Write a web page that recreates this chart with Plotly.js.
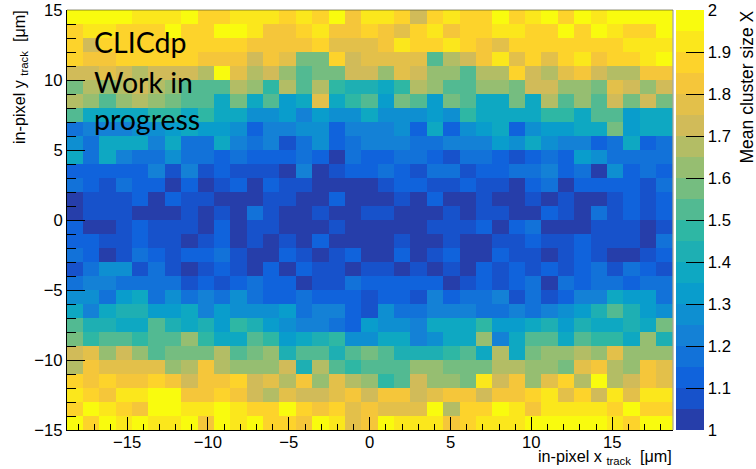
<!DOCTYPE html>
<html>
<head>
<meta charset="utf-8">
<script src="https://cdn.plot.ly/plotly-3.0.1.min.js"></script>
<style>html,body{margin:0;padding:0;background:#fff}#c{width:756px;height:469px}</style>
</head>
<body>
<div id="c"></div>
<script>
// Mean cluster size per bin, one array per row of in-pixel y (rows named by lower bin edge)
const yN15=[1.98,1.88,1.98,1.93,1.98,1.93,1.93,1.98,1.83,1.98,1.93,1.98,1.88,1.88,1.83,1.98,1.93,1.78,1.83,1.98,1.93,1.93,1.93,1.83,1.88,1.93,1.93,1.93,1.98,1.98,1.98,1.98,1.98,1.93,1.88,1.98,1.98];
const yN14=[1.88,1.98,1.93,1.88,1.83,1.98,1.98,1.93,1.93,1.98,1.93,1.88,1.88,1.98,1.88,1.83,1.88,1.78,1.83,1.78,1.78,1.78,1.98,1.68,1.88,1.88,1.98,1.93,1.83,1.93,1.93,1.93,1.93,1.88,1.98,1.88,1.88];
const yN13=[1.93,1.88,1.83,1.93,1.93,1.98,1.98,1.83,1.83,1.88,1.83,1.73,1.68,1.78,1.73,1.73,1.78,1.83,1.73,1.83,1.83,1.73,1.78,1.83,1.83,1.73,1.83,1.83,1.88,1.93,1.78,1.88,1.73,1.93,1.78,1.93,1.93];
const yN12=[1.88,1.83,1.88,1.83,1.83,1.88,1.83,1.73,1.83,1.83,1.88,1.73,1.78,1.68,1.83,1.63,1.78,1.68,1.63,1.48,1.53,1.73,1.63,1.63,1.58,1.93,1.73,1.83,1.63,1.78,1.88,1.68,1.98,1.68,1.73,1.83,1.78];
const yN11=[1.68,1.83,1.78,1.78,1.78,1.78,1.63,1.68,1.83,1.68,1.63,1.63,1.63,1.73,1.43,1.68,1.53,1.48,1.53,1.53,1.53,1.63,1.63,1.58,1.58,1.58,1.68,1.68,1.63,1.63,1.58,1.78,1.83,1.68,1.63,1.83,1.78];
const yN10=[1.73,1.78,1.63,1.73,1.63,1.53,1.58,1.58,1.58,1.68,1.53,1.58,1.63,1.43,1.53,1.53,1.43,1.53,1.58,1.53,1.43,1.43,1.43,1.48,1.53,1.38,1.68,1.38,1.58,1.63,1.63,1.68,1.63,1.78,1.63,1.63,1.63];
const yN9=[1.58,1.48,1.53,1.53,1.48,1.53,1.53,1.63,1.48,1.38,1.38,1.53,1.48,1.33,1.38,1.43,1.48,1.28,1.28,1.38,1.38,1.23,1.28,1.38,1.38,1.63,1.23,1.38,1.53,1.53,1.38,1.53,1.48,1.48,1.38,1.63,1.43];
const yN8=[1.53,1.43,1.43,1.38,1.38,1.53,1.43,1.38,1.43,1.33,1.48,1.43,1.33,1.28,1.23,1.23,1.18,1.13,1.33,1.28,1.28,1.23,1.38,1.38,1.38,1.48,1.33,1.33,1.38,1.43,1.33,1.43,1.38,1.38,1.43,1.38,1.58];
const yN7=[1.38,1.23,1.38,1.43,1.43,1.33,1.33,1.38,1.23,1.33,1.28,1.28,1.28,1.33,1.18,1.23,1.23,1.13,1.08,1.28,1.18,1.18,1.23,1.23,1.23,1.18,1.18,1.23,1.18,1.23,1.28,1.33,1.43,1.53,1.43,1.33,1.28];
const yN6=[1.28,1.28,1.18,1.33,1.38,1.18,1.28,1.18,1.23,1.18,1.28,1.18,1.13,1.13,1.18,1.13,1.13,1.13,1.08,1.13,1.13,1.08,1.23,1.13,1.18,1.18,1.23,1.08,1.18,1.08,1.13,1.23,1.23,1.38,1.33,1.33,1.18];
const yN5=[1.18,1.23,1.23,1.18,1.18,1.18,1.18,1.08,1.13,1.08,1.13,1.18,1.13,1.13,1.03,1.08,1.08,1.18,1.13,1.13,1.13,1.13,1.13,1.03,1.08,1.13,1.08,1.13,1.18,1.03,1.18,1.13,1.18,1.18,1.13,1.18,1.18];
const yN4=[1.08,1.18,1.28,1.28,1.08,1.18,1.08,1.03,1.08,1.13,1.08,1.03,1.13,1.03,1.13,1.08,1.08,1.03,1.08,1.08,1.03,1.08,1.03,1.08,1.03,1.13,1.08,1.13,1.08,1.13,1.08,1.13,1.18,1.08,1.18,1.13,1.08];
const yN3=[1.18,1.13,1.03,1.08,1.18,1.13,1.08,1.13,1.13,1.18,1.08,1.03,1.03,1.13,1.08,1.03,1.08,1.13,1.03,1.03,1.13,1.03,1.08,1.13,1.03,1.03,1.13,1.08,1.08,1.03,1.08,1.13,1.08,1.03,1.03,1.08,1.13];
const yN2=[1.13,1.13,1.08,1.08,1.13,1.08,1.08,1.03,1.08,1.13,1.03,1.08,1.03,1.08,1.03,1.13,1.03,1.03,1.03,1.03,1.08,1.03,1.03,1.08,1.03,1.03,1.08,1.08,1.13,1.08,1.08,1.13,1.08,1.08,1.08,1.03,1.18];
const yN1=[1.13,1.03,1.03,1.08,1.13,1.08,1.08,1.08,1.03,1.13,1.03,1.08,1.08,1.03,1.03,1.03,1.08,1.03,1.03,1.03,1.03,1.03,1.08,1.08,1.08,1.13,1.03,1.13,1.18,1.03,1.03,1.03,1.08,1.08,1.08,1.03,1.08];
const y0=[1.03,1.08,1.08,1.08,1.03,1.03,1.03,1.08,1.03,1.08,1.03,1.18,1.08,1.03,1.03,1.08,1.03,1.03,1.08,1.08,1.03,1.03,1.03,1.08,1.03,1.08,1.08,1.03,1.03,1.13,1.08,1.03,1.18,1.08,1.13,1.08,1.13];
const y1=[1.03,1.08,1.08,1.08,1.13,1.03,1.13,1.08,1.08,1.03,1.03,1.03,1.08,1.08,1.03,1.03,1.13,1.03,1.03,1.03,1.08,1.03,1.13,1.03,1.03,1.08,1.03,1.03,1.08,1.03,1.08,1.03,1.03,1.08,1.13,1.08,1.13];
const y2=[1.18,1.13,1.08,1.18,1.13,1.13,1.03,1.13,1.03,1.08,1.13,1.03,1.13,1.08,1.08,1.03,1.03,1.03,1.03,1.08,1.13,1.13,1.08,1.08,1.13,1.08,1.08,1.03,1.13,1.18,1.03,1.13,1.13,1.13,1.13,1.08,1.18];
const y3=[1.13,1.13,1.13,1.13,1.13,1.23,1.08,1.23,1.08,1.13,1.08,1.08,1.08,1.03,1.23,1.03,1.08,1.13,1.13,1.18,1.13,1.08,1.18,1.18,1.08,1.13,1.13,1.18,1.18,1.23,1.13,1.18,1.03,1.28,1.13,1.18,1.13];
const y4=[1.38,1.18,1.38,1.23,1.18,1.18,1.28,1.18,1.18,1.13,1.18,1.13,1.13,1.13,1.18,1.13,1.03,1.18,1.13,1.13,1.18,1.18,1.13,1.08,1.18,1.18,1.13,1.08,1.13,1.18,1.13,1.33,1.28,1.18,1.18,1.18,1.18];
const y5=[1.28,1.18,1.38,1.38,1.38,1.23,1.38,1.18,1.18,1.38,1.23,1.18,1.23,1.08,1.18,1.28,1.13,1.18,1.23,1.23,1.23,1.18,1.18,1.23,1.23,1.23,1.33,1.28,1.38,1.28,1.23,1.23,1.13,1.18,1.38,1.13,1.18];
const y6=[1.18,1.23,1.23,1.23,1.28,1.28,1.33,1.38,1.33,1.33,1.28,1.13,1.23,1.23,1.28,1.28,1.13,1.23,1.23,1.23,1.28,1.13,1.38,1.13,1.28,1.33,1.38,1.13,1.28,1.33,1.33,1.38,1.38,1.58,1.33,1.38,1.38];
const y7=[1.53,1.38,1.38,1.38,1.38,1.48,1.48,1.38,1.48,1.38,1.38,1.28,1.28,1.33,1.23,1.33,1.28,1.28,1.38,1.28,1.28,1.28,1.33,1.28,1.48,1.38,1.38,1.38,1.38,1.48,1.48,1.38,1.53,1.53,1.33,1.38,1.38];
const y8=[1.68,1.63,1.53,1.63,1.68,1.63,1.58,1.53,1.53,1.38,1.58,1.38,1.53,1.33,1.38,1.78,1.38,1.48,1.53,1.33,1.58,1.53,1.33,1.58,1.53,1.38,1.38,1.58,1.38,1.68,1.53,1.63,1.53,1.73,1.58,1.73,1.58];
const y9=[1.58,1.68,1.63,1.68,1.73,1.68,1.63,1.53,1.53,1.53,1.68,1.63,1.48,1.68,1.53,1.68,1.48,1.43,1.43,1.38,1.48,1.68,1.63,1.53,1.53,1.63,1.63,1.58,1.73,1.73,1.63,1.63,1.58,1.78,1.73,1.63,1.73];
const y10=[1.73,1.73,1.78,1.73,1.68,1.73,1.73,1.73,1.68,1.98,1.78,1.68,1.73,1.63,1.53,1.58,1.58,1.73,1.73,1.63,1.78,1.73,1.63,1.63,1.53,1.68,1.68,1.88,1.73,1.68,1.78,1.83,1.73,1.68,1.68,1.83,1.83];
const y11=[1.88,1.83,1.83,1.88,1.88,1.88,1.88,1.88,1.83,1.83,1.83,1.73,1.83,1.78,1.58,1.58,1.88,1.73,1.78,1.78,1.78,1.78,1.53,1.68,1.73,1.83,1.93,1.78,1.88,1.78,1.88,1.93,1.83,1.88,1.88,1.93,1.98];
const y12=[1.88,1.73,1.88,1.88,1.88,1.88,1.88,1.88,1.88,1.88,1.88,1.83,1.83,1.83,1.83,1.88,1.78,1.78,1.78,1.83,1.93,1.88,1.88,1.93,1.88,1.83,1.78,1.88,1.88,1.88,1.88,1.88,1.88,1.88,1.93,1.93,1.93];
const y13=[1.88,1.93,1.93,1.88,1.88,1.88,1.98,1.88,1.88,1.98,1.98,1.93,1.83,1.83,1.88,1.93,1.83,1.83,1.88,1.83,1.78,1.88,1.93,1.83,1.88,1.88,1.93,1.93,1.88,1.88,1.98,1.88,1.98,1.93,1.88,1.88,1.98];
const y14=[1.98,1.98,1.98,1.98,1.93,1.93,1.93,1.98,1.88,1.88,1.93,1.93,1.93,1.88,1.93,1.88,1.98,1.83,1.93,1.93,1.88,1.73,1.88,1.93,1.88,1.88,1.98,1.88,1.93,1.98,1.88,1.98,1.93,1.98,1.98,1.98,1.98];

const zRows=[yN15,yN14,yN13,yN12,yN11,yN10,yN9,yN8,yN7,yN6,yN5,yN4,yN3,yN2,yN1,y0,y1,y2,y3,y4,y5,y6,y7,y8,y9,y10,y11,y12,y13,y14];
const binColors=['#263eaa','#1752cb','#1063dc','#1272d9','#1481d6','#0e8fd1','#099dcc','#0ea8c2','#1eafb3','#2eb7a4','#52ba92','#75bd80','#96be71','#b3bd65','#d1bb59','#e3c04a','#f5c63a','#fdd32b','#fbe71c','#f9fb0e'];
const xTickVals=[-15,-10,-5,0,5,10,15];
const xTickText=['\u221215','\u221210','\u22125','0','5','10','15'];
const yTickVals=[-15,-10,-5,0,5,10,15];
const yTickText=['\u221215','\u221210','\u22125','0','5','10','15'];
const zTickVals=[1,1.1,1.2,1.3,1.4,1.5,1.6,1.7,1.8,1.9,2];
const zTickText=['1','1.1','1.2','1.3','1.4','1.5','1.6','1.7','1.8','1.9','2'];

const colorscale=[];
binColors.forEach((c,i)=>{colorscale.push([i/20,c]);colorscale.push([(i+1)/20,c]);});
const F='"Liberation Sans",Arial,sans-serif';
const binW=37.5/37;

Plotly.newPlot('c',[{
  type:'heatmap',
  z:zRows,
  x0:-18.75+binW/2,dx:binW,
  y0:-14.5,dy:1,
  zmin:1,zmax:2,
  colorscale:colorscale,
  xgap:0,ygap:0,
  hoverinfo:'x+y+z',
  colorbar:{
    thickness:28,thicknessmode:'pixels',
    len:1,lenmode:'fraction',
    x:1.0055,xanchor:'left',xpad:0,
    y:0.5,yanchor:'middle',ypad:0,
    outlinewidth:0,
    tickmode:'array',tickvals:zTickVals,ticktext:zTickText,
    ticks:'inside',ticklen:18,tickwidth:1,tickcolor:'#000',
    tickfont:{family:F,size:16.7,color:'#000'}
  }
}],{
  width:756,height:469,
  paper_bgcolor:'#fff',plot_bgcolor:'#fff',
  margin:{l:67,r:83,t:10,b:39,pad:0,autoexpand:false},
  showlegend:false,
  xaxis:{
    range:[-18.72,18.76],
    tickmode:'array',tickvals:xTickVals,ticktext:xTickText,
    ticks:'inside',ticklen:13,tickwidth:1,tickcolor:'#000',
    ticklabelstandoff:-3,
    minor:{dtick:1,ticks:'inside',ticklen:6,tickwidth:1,tickcolor:'#000',showgrid:false},
    tickfont:{family:F,size:16.7,color:'#000'},
    showgrid:false,zeroline:false,showline:true,linecolor:'#000',linewidth:1
  },
  yaxis:{
    range:[-15,15],
    tickmode:'array',tickvals:yTickVals,ticktext:yTickText,
    ticks:'inside',ticklen:18,tickwidth:1,tickcolor:'#000',
    minor:{dtick:1,ticks:'inside',ticklen:9,tickwidth:1,tickcolor:'#000',showgrid:false},
    tickfont:{family:F,size:16.7,color:'#000'},
    showgrid:false,zeroline:false,showline:true,linecolor:'#000',linewidth:1
  },
  shapes:[
    {type:'line',xref:'paper',yref:'paper',x0:0,x1:1,y0:1,y1:1,line:{color:'rgba(70,70,30,0.6)',width:1},layer:'above'},
    {type:'line',xref:'paper',yref:'paper',x0:1,x1:1,y0:0,y1:1,line:{color:'rgba(70,70,30,0.6)',width:1},layer:'above'}
  ],
  annotations:[
    {xref:'paper',yref:'paper',x:1,y:0,xanchor:'right',yanchor:'top',yshift:-15,xshift:1,showarrow:false,
     text:'in-pixel x\u00a0<sub>track</sub>\u00a0\u00a0[\u03bcm]',font:{family:F,size:16.2,color:'#000'}},
    {xref:'paper',yref:'paper',x:0,y:1,xanchor:'center',yanchor:'top',xshift:-47,yshift:2,showarrow:false,textangle:-90,
     text:'in-pixel y\u00a0<sub>track</sub>\u00a0\u00a0[\u03bcm]',font:{family:F,size:16.2,color:'#000'}},
    {xref:'paper',yref:'paper',x:1,y:1,xanchor:'center',yanchor:'top',xshift:73,yshift:1,showarrow:false,textangle:-90,
     text:'Mean cluster size X',font:{family:F,size:17.5,color:'#000'}},
    {xref:'paper',yref:'paper',x:0,y:1,xanchor:'left',yanchor:'middle',xshift:25,yshift:-32,showarrow:false,
     text:'CLICdp',font:{family:'Lato,sans-serif',size:28.5,color:'#000'}},
    {xref:'paper',yref:'paper',x:0,y:1,xanchor:'left',yanchor:'middle',xshift:25,yshift:-72,showarrow:false,
     text:'Work in',font:{family:'Lato,sans-serif',size:28.5,color:'#000'}},
    {xref:'paper',yref:'paper',x:0,y:1,xanchor:'left',yanchor:'middle',xshift:25,yshift:-109,showarrow:false,
     text:'progress',font:{family:'Lato,sans-serif',size:28.5,color:'#000'}}
  ]
},{displayModeBar:false,staticPlot:true});
</script>
</body>
</html>
